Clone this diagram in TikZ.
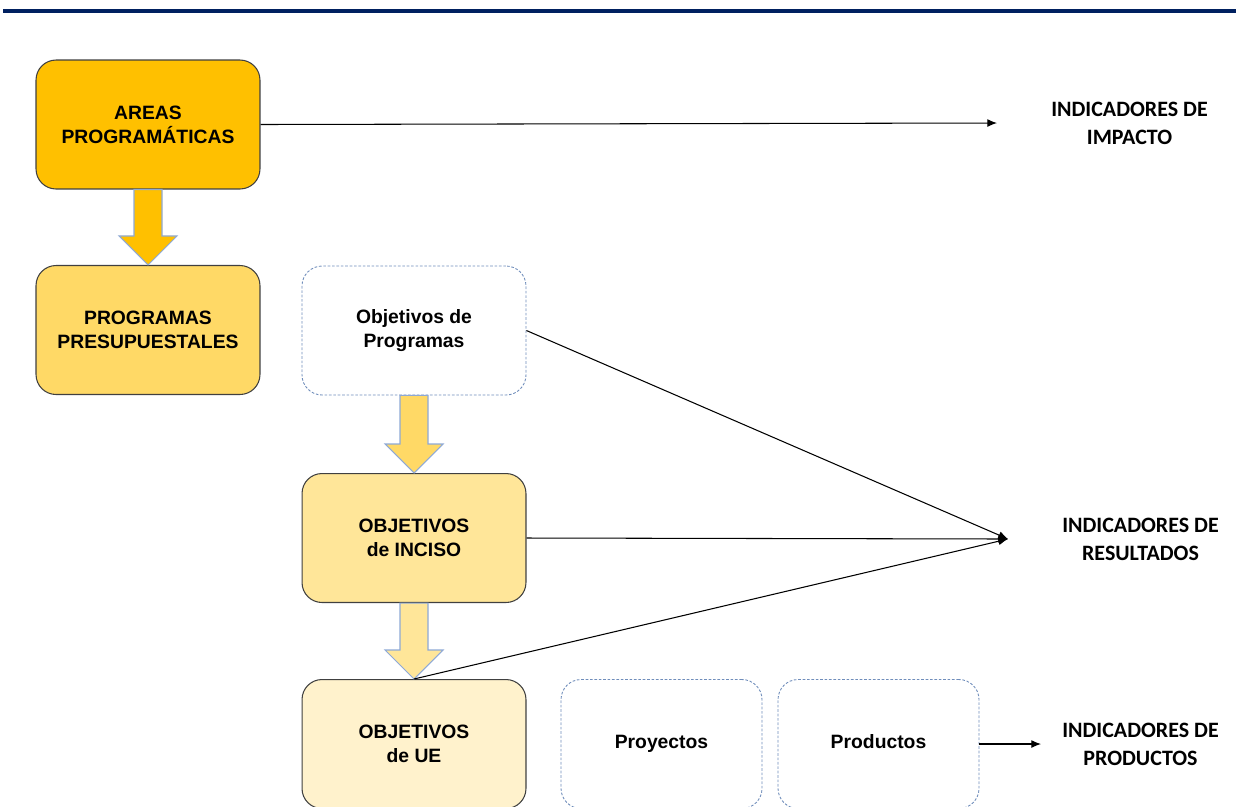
\documentclass[tikz,border=0pt]{standalone}
\usepackage{fontspec}
\setmainfont{Liberation Sans}
\newfontfamily\calibri{Carlito}
\usepackage{xcolor}
\usepackage{tikz}
\usetikzlibrary{arrows.meta, calc}

\definecolor{navy}{HTML}{002060}
\definecolor{amber}{HTML}{FFC000}
\definecolor{gold}{HTML}{FFD966}
\definecolor{sand}{HTML}{FFE699}
\definecolor{cream}{HTML}{FFF2CC}
\definecolor{rimgray}{HTML}{404040}
\definecolor{rimblue}{HTML}{6F8DBB}
\definecolor{fatrim}{HTML}{8EA9D6}

% fat block arrow from the bottom of #1 to the top of #2, filled with #3
\newcommand{\fatarrow}[3]{%
  \filldraw[fatline, fill=#3] ($(#1.south)+(-14,0)$) -- ($(#2.north)+(-14,-29)$)
    -- ($(#2.north)+(-29,-29)$) -- (#2.north) -- ($(#2.north)+(29,-29)$)
    -- ($(#2.north)+(14,-29)$) -- ($(#1.south)+(14,0)$) -- cycle;}

\begin{document}
\begin{tikzpicture}[
            x=0.02cm, y=-0.02cm,
            box/.style={rectangle, rounded corners=0.4cm, draw=rimgray, line width=0.6pt,
                minimum width=4.48cm, minimum height=2.58cm, align=center,
                font=\bfseries\fontsize{11}{13.6}\selectfont},
            ghost/.style={box, draw=rimblue, fill=white, line width=0.5pt, dash pattern=on 1.5pt off 1pt},
            single/.style={execute at begin node=\strut},
            label/.style={align=center, font=\calibri\bfseries\fontsize{12.5}{15.9}\selectfont},
            link/.style={-{Latex[length=5.5pt, width=4.5pt]}, line width=0.6pt, black},
            fatline/.style={draw=fatrim, line width=0.6pt}
        ]

        \clip (0,0) rectangle (1236,806);

        % top rule
        \draw[navy, line width=2.4pt] (3,11) -- (1236,11);

        % boxes
        \node[box, fill=amber] (areas) at (148,124.5) {AREAS\\PROGRAMÁTICAS};
        \node[box, fill=gold] (presup) at (148,330) {PROGRAMAS\\PRESUPUESTALES};
        \node[ghost] (objprog) at (414,330.5) {Objetivos de\\Programas};
        \node[box, fill=sand] (inciso) at (414,538) {OBJETIVOS\\de INCISO};
        \node[box, fill=cream] (ue) at (414,744) {OBJETIVOS\\de UE};
        \node[ghost, single, minimum width=4.02cm] (proy) at (661.5,744) {Proyectos};
        \node[ghost, single, minimum width=4.02cm] (prod) at (878.5,744) {Productos};

        % indicators
        \node[label] (impacto) at (1129.5,123) {INDICADORES DE\\IMPACTO};
        \node[label] (result) at (1140.5,539) {INDICADORES DE\\RESULTADOS};
        \node[label] (producto) at (1140.5,744) {INDICADORES DE\\PRODUCTOS};

        \coordinate (impend) at (997,123);
        \coordinate (resend) at (1008,539);
        \coordinate (prodend) at (1041,744);

        % fat arrows
        \fatarrow{areas}{presup}{amber}
        \fatarrow{objprog}{inciso}{gold}
        \fatarrow{inciso}{ue}{sand}

        % thin arrows
        \draw[link] (areas.east) -- (impend);
        \draw[link] (objprog.east) -- (resend);
        \draw[link] (inciso.east) -- (resend);
        \draw[link] (ue.north) -- (resend);
        \draw[link] (prod.east) -- (prodend);

    \end{tikzpicture}
\end{document}
